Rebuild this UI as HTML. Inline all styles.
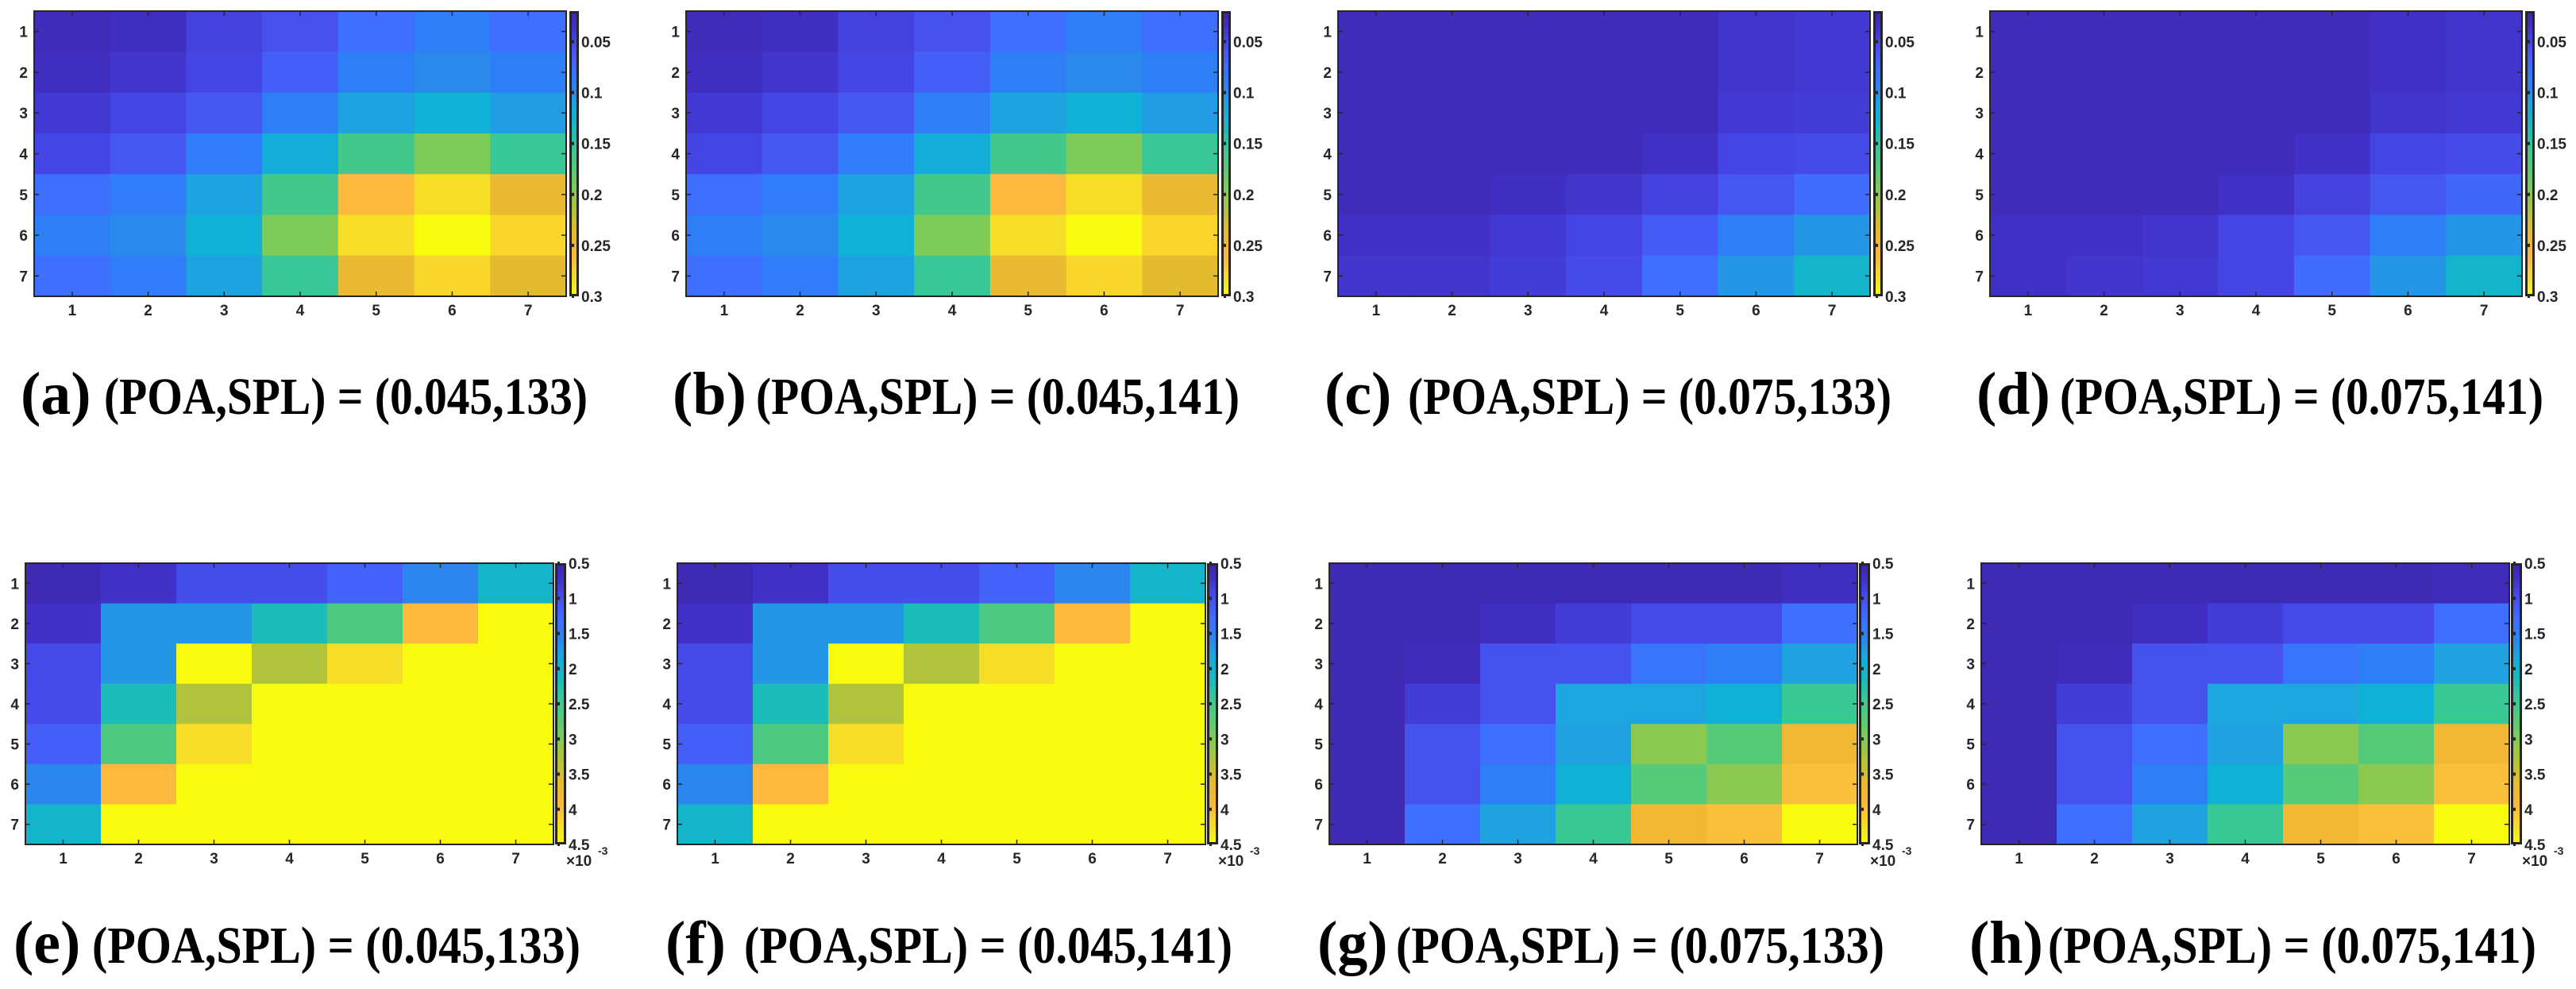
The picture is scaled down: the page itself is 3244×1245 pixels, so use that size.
<!DOCTYPE html>
<html><head><meta charset="utf-8">
<style>
html,body{margin:0;padding:0;background:#fff;}
svg{display:block;}
.tk{font-family:"Liberation Sans",sans-serif;font-weight:bold;font-size:19px;fill:#262626;}
.cap{font-family:"Liberation Serif",serif;font-weight:bold;fill:#000;}
</style></head>
<body>
<svg id="fig" width="3244" height="1245" viewBox="0 0 3244 1245" xmlns="http://www.w3.org/2000/svg"></svg>
<script>
// ---- data ----
const rowLabels = [1,2,3,4,5,6,7];
const colLabels = [1,2,3,4,5,6,7];
const topTicks = [0.05,0.1,0.15,0.2,0.25,0.3];
const topTickLabels = ["0.05","0.1","0.15","0.2","0.25","0.3"];
const topDomain = [0.02,0.3];
const botTicks = [0.5,1,1.5,2,2.5,3,3.5,4,4.5];
const botTickLabels = ["0.5","1","1.5","2","2.5","3","3.5","4","4.5"];
const botDomain = [0.5,4.5];
const captionLetters = ["(a)","(b)","(c)","(d)","(e)","(f)","(g)","(h)"];
const captionTexts = ["(POA,SPL) = (0.045,133)","(POA,SPL) = (0.045,141)","(POA,SPL) = (0.075,133)","(POA,SPL) = (0.075,141)",
                      "(POA,SPL) = (0.045,133)","(POA,SPL) = (0.045,141)","(POA,SPL) = (0.075,133)","(POA,SPL) = (0.075,141)"];
const dataA = [
 [.028,.031,.045,.056,.076,.090,.076],
 [.031,.037,.048,.065,.090,.098,.090],
 [.040,.048,.059,.090,.110,.121,.107],
 [.048,.059,.087,.118,.160,.194,.154],
 [.076,.087,.110,.160,.264,.283,.244],
 [.090,.098,.121,.194,.283,.300,.278],
 [.076,.087,.110,.154,.244,.278,.236]];
const dataB = [
 [.028,.031,.045,.056,.076,.090,.076],
 [.031,.037,.048,.065,.090,.098,.090],
 [.040,.048,.059,.090,.110,.121,.107],
 [.048,.059,.087,.118,.160,.194,.154],
 [.076,.087,.110,.160,.264,.283,.244],
 [.090,.098,.121,.194,.283,.300,.278],
 [.076,.087,.110,.154,.244,.278,.236]];
const dataC = [
 [.028,.028,.028,.028,.028,.037,.040],
 [.028,.028,.028,.028,.028,.037,.040],
 [.028,.028,.028,.028,.028,.040,.042],
 [.028,.028,.028,.028,.034,.048,.051],
 [.028,.028,.031,.037,.045,.059,.073],
 [.034,.034,.040,.048,.062,.090,.104],
 [.037,.037,.042,.051,.076,.104,.126]];
const dataD = [
 [.028,.028,.028,.028,.028,.034,.037],
 [.028,.028,.028,.028,.028,.034,.037],
 [.028,.028,.028,.028,.028,.037,.040],
 [.028,.028,.028,.028,.034,.048,.051],
 [.028,.028,.028,.034,.045,.059,.070],
 [.034,.034,.037,.048,.059,.090,.104],
 [.034,.037,.040,.048,.073,.104,.126]];
const dataE = [
 [.58,.70,.98,.98,1.18,1.58,2.02],
 [.70,1.70,1.70,2.18,2.62,3.98,4.5],
 [.94,1.70,4.5,3.30,4.26,4.5,4.5],
 [.96,2.18,3.30,4.5,4.5,4.5,4.5],
 [1.14,2.62,4.26,4.5,4.5,4.5,4.5],
 [1.58,3.98,4.5,4.5,4.5,4.5,4.5],
 [2.02,4.5,4.5,4.5,4.5,4.5,4.5]];
const dataF = [
 [.58,.70,.98,.98,1.18,1.58,2.02],
 [.70,1.70,1.70,2.18,2.62,3.98,4.5],
 [.94,1.70,4.5,3.30,4.26,4.5,4.5],
 [.96,2.18,3.30,4.5,4.5,4.5,4.5],
 [1.14,2.62,4.26,4.5,4.5,4.5,4.5],
 [1.58,3.98,4.5,4.5,4.5,4.5,4.5],
 [2.02,4.5,4.5,4.5,4.5,4.5,4.5]];
const dataG = [
 [.58,.58,.58,.58,.58,.58,.66],
 [.58,.58,.66,.82,.94,.94,1.30],
 [.58,.62,1.02,1.02,1.38,1.50,1.78],
 [.58,.82,1.02,1.82,1.82,1.94,2.42],
 [.58,1.02,1.30,1.78,3.06,2.70,3.78],
 [.58,1.02,1.50,1.94,2.70,3.06,4.02],
 [.58,1.30,1.78,2.42,3.78,4.02,4.5]];
const dataH = [
 [.58,.58,.58,.58,.58,.58,.62],
 [.58,.58,.66,.82,.94,.94,1.30],
 [.58,.62,1.02,1.02,1.38,1.50,1.78],
 [.58,.82,1.02,1.82,1.82,1.94,2.42],
 [.58,1.02,1.30,1.78,3.06,2.70,3.78],
 [.58,1.02,1.50,1.94,2.70,3.06,4.02],
 [.58,1.30,1.78,2.42,3.78,4.02,4.5]];

// ---- colormap (parula-like) ----
const cmT = [0,.05,.10,.15,.20,.25,.28,.32,.36,.42,.48,.55,.62,.70,.77,.82,.87,.92,.95,1];
const cmC = ["#3e26a8","#4030c6","#4545e4","#465af5","#3e6ffe","#2e7ff6","#2a8aea","#20a2e0","#10b1d4","#1cbcb8","#3ac796","#55ca78","#7ecb5b","#b0c33c","#e2bc2e","#f0b835","#fbb93d","#f8d52c","#f4e126","#f9fb0e"];
function hex2rgb(h){return [parseInt(h.substr(1,2),16),parseInt(h.substr(3,2),16),parseInt(h.substr(5,2),16)];}
function cmap(t){
  t=Math.max(0,Math.min(1,t));
  for(let i=0;i<cmT.length-1;i++){
    if(t<=cmT[i+1]){
      const f=(t-cmT[i])/(cmT[i+1]-cmT[i]);
      const a=hex2rgb(cmC[i]),b=hex2rgb(cmC[i+1]);
      return "rgb("+a.map((v,k)=>Math.round(v+(b[k]-v)*f)).join(",")+")";
    }
  }
  return cmC[cmC.length-1];
}

const NS="http://www.w3.org/2000/svg";
const svg=document.getElementById('fig');
function mk(tag,attrs,parent){const e=document.createElementNS(NS,tag);for(const k in attrs)e.setAttribute(k,attrs[k]);(parent||svg).appendChild(e);return e;}

// gradient
const defs=mk('defs',{});
const grad=mk('linearGradient',{id:'cbgrad',x1:0,y1:0,x2:0,y2:1},defs);
cmT.forEach((t,i)=>mk('stop',{offset:t,'stop-color':cmC[i]},grad));

const panels=[
 {d:dataA,row:0,col:0},{d:dataB,row:0,col:1},{d:dataC,row:0,col:2},{d:dataD,row:0,col:3},
 {d:dataE,row:1,col:0},{d:dataF,row:1,col:1},{d:dataG,row:1,col:2},{d:dataH,row:1,col:3}];

panels.forEach((p,pi)=>{
  const top=p.row===0;
  const X0=(top?43:32)+821*p.col, Y0=top?14:709, W=top?670:665, H=top?359:354;
  const dom=top?topDomain:botDomain;
  const ticks=top?topTicks:botTicks, tlabs=top?topTickLabels:botTickLabels;
  const g=mk('g',{});
  
  
  const nR=rowLabels.length,nC=colLabels.length;
  const xs=c=>X0+c*W/nC, ys=r=>Y0+r*H/nR;
  const tv=v=>(v-dom[0])/(dom[1]-dom[0]);
  p.d.forEach((row,r)=>row.forEach((v,c)=>{
    const rc=mk('rect',{x:xs(c),y:ys(r),width:W/nC+0.6,height:H/nR+0.6,fill:cmap(tv(v))},g);
    
    
  }));
  const fr=mk('rect',{x:X0,y:Y0,width:W,height:H,fill:'none',stroke:'#262626','stroke-width':2},g);
  
  
  // ticks
  colLabels.forEach((l,c)=>{
    const x=xs(c+0.5);
    mk('line',{x1:x,y1:Y0,x2:x,y2:Y0+6,stroke:'#262626','stroke-width':1.5},g);
    mk('line',{x1:x,y1:Y0+H,x2:x,y2:Y0+H-6,stroke:'#262626','stroke-width':1.5},g);
    const t=mk('text',{x:x,y:Y0+H+24,'text-anchor':'middle',class:'tk'},g);
    t.textContent=l;
    
    
  });
  rowLabels.forEach((l,r)=>{
    const y=ys(r+0.5);
    mk('line',{x1:X0,y1:y,x2:X0+6,y2:y,stroke:'#262626','stroke-width':1.5},g);
    mk('line',{x1:X0+W,y1:y,x2:X0+W-6,y2:y,stroke:'#262626','stroke-width':1.5},g);
    const t=mk('text',{x:X0-8,y:y+7,'text-anchor':'end',class:'tk'},g);
    t.textContent=l;
    
    
  });
  // colorbar
  const cbx=top?X0+W+4:X0+W+2, cbw=top?12:14;
  const cb=mk('rect',{x:cbx+1.5,y:Y0+1.5,width:cbw-3,height:H-3,fill:'url(#cbgrad)',stroke:'#262626','stroke-width':3},g);
  
  
  ticks.forEach((v,i)=>{
    const y=Y0+tv(v)*H;
    mk('rect',{x:cbx+3,y:y-2,width:3,height:4,fill:'#262626'},g);
    const t=mk('text',{x:cbx+cbw+3,y:y+7,class:'tk'},g);
    t.textContent=tlabs[i];
    
    
  });
  if(!top){
    const t=mk('text',{x:cbx+cbw,y:Y0+H+27,class:'tk'},g);
    t.textContent='×10';
    
    
    const s=mk('text',{x:cbx+cbw+40,y:Y0+H+13,class:'tk',style:'font-size:14px'},g);
    s.textContent='-3';
    
    
  }
  // caption
  const base=top?521:1212;
  const lx=(top?26:17)+821*p.col;
  const cl=mk('text',{x:lx,y:base,class:'cap',style:'font-size:76px'},g);
  cl.textContent=captionLetters[pi];
  
  
  const tx=(top?131:116)+821*p.col;
  const ct=mk('text',{x:tx,y:base,class:'cap',style:'font-size:66px',textLength:top?609:615,lengthAdjust:'spacingAndGlyphs'},g);
  ct.textContent=captionTexts[pi];
  
  
});
</script>
</body></html>
